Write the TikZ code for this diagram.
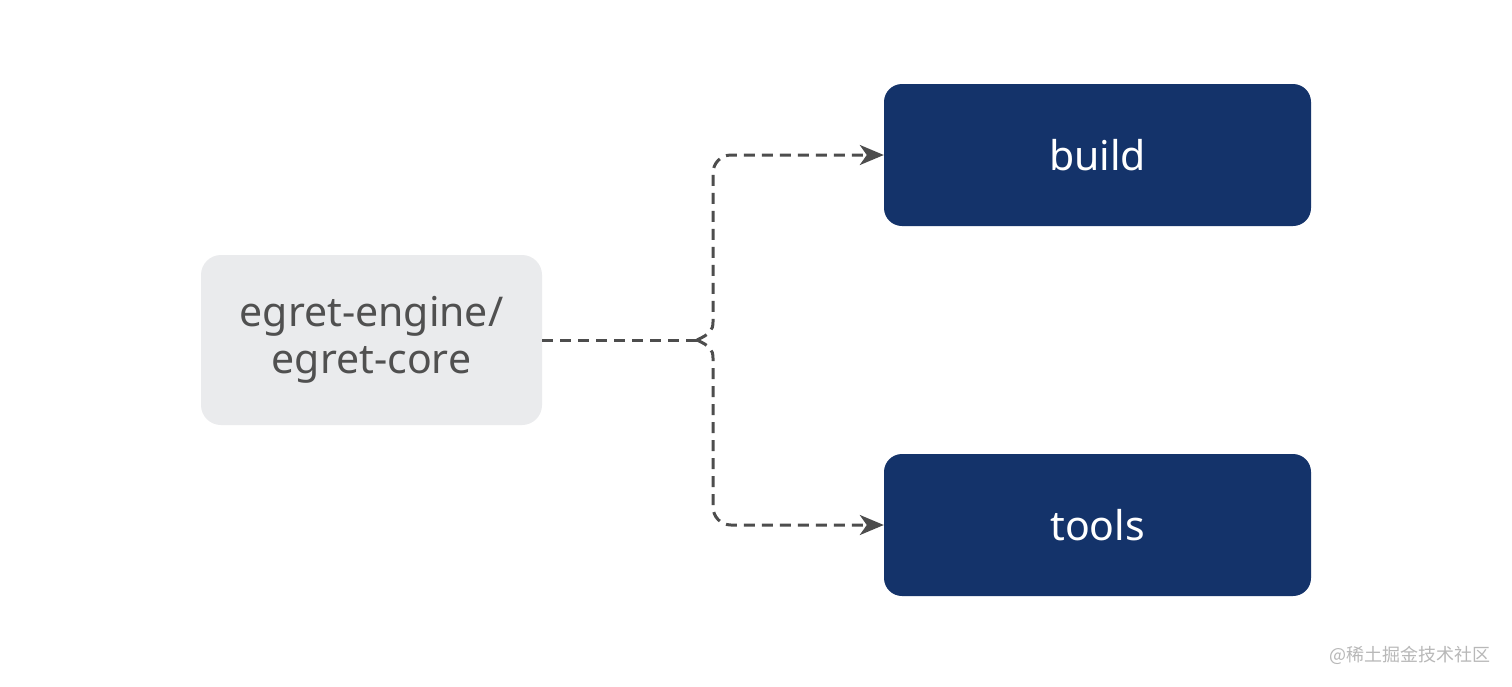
\documentclass[tikz,border=0pt]{standalone}
\usepackage{fontspec}
\setmainfont{Noto Sans}
\newfontfamily\cjkfont{Noto Sans CJK SC}
\usetikzlibrary{arrows.meta}
\definecolor{navy}{HTML}{14336A}
\definecolor{lightbox}{HTML}{EAEBED}
\definecolor{textgray}{HTML}{505050}
\definecolor{linegray}{HTML}{4D4D4D}
\definecolor{markgray}{HTML}{B8B8B8}
\begin{document}
\begin{tikzpicture}[x=1pt,y=-1pt,
  srcbox/.style={fill=lightbox,rounded corners=20pt,minimum width=341pt,minimum height=170pt,inner sep=0pt,text=textgray,font=\fontsize{41}{47}\selectfont,align=center},
  dstbox/.style={fill=navy,rounded corners=18pt,minimum width=427pt,minimum height=142pt,inner sep=0pt,text=white,font=\fontsize{41}{47}\selectfont},
  link/.style={draw=linegray,line width=3pt,dash pattern=on 11pt off 7pt,rounded corners=16pt},
  tip/.style={-{Stealth[length=24pt,width=20pt,inset=7pt]}}
]
\useasboundingbox (0,0) rectangle (1512,686);
\fill[white] (0,0) rectangle (1512,686);
\node[srcbox] (src) at (371.5,340) {egret-engine/\\egret-core};
\node[dstbox] (build) at (1097.5,155) {build};
\node[dstbox] (tools) at (1097.5,525) {tools};
\coordinate (j) at (697,340);
\coordinate (jt) at (713,322);
\coordinate (jb) at (713,358);
\draw[link] (src.east) -- (j);
\draw[link,tip,rounded corners=0pt] (j) .. controls (710,334) and (713,330) .. (jt)
  {[rounded corners=18pt] -- (713,155) -- (build.west)};
\draw[link,tip,rounded corners=0pt] (j) .. controls (710,346) and (713,350) .. (jb)
  {[rounded corners=18pt] -- (713,525) -- (tools.west)};
\node[text=markgray,font=\cjkfont\fontsize{18}{20}\selectfont,anchor=east,inner sep=0pt] (mark) at (1491,655) {@稀土掘金技术社区};
\end{tikzpicture}
\end{document}
